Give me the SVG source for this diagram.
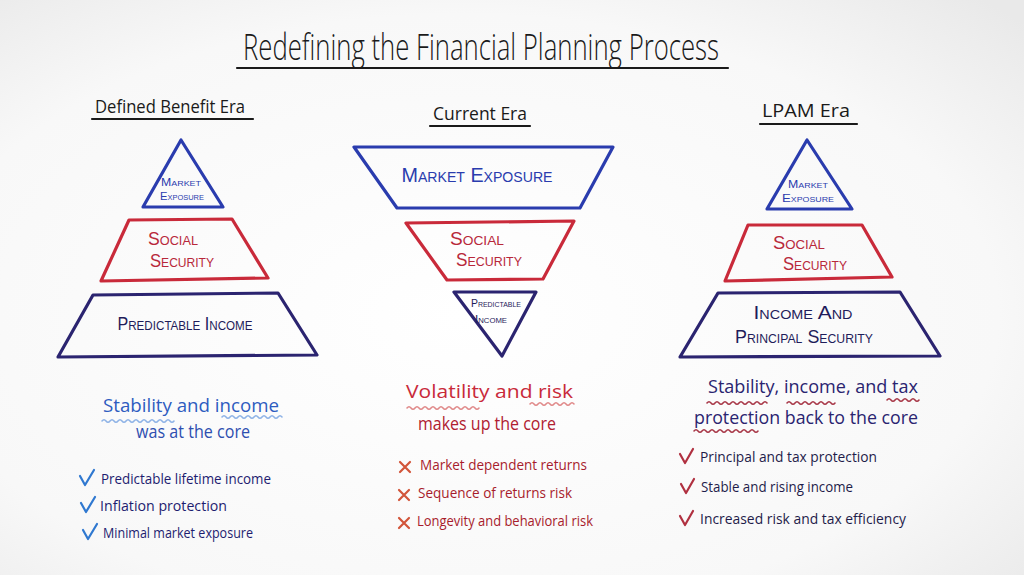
<svg xmlns="http://www.w3.org/2000/svg" width="1024" height="575" viewBox="0 0 1024 575">
<defs>
<radialGradient id="bg" cx="0.45" cy="0.55" r="0.75">
<stop offset="0" stop-color="#ffffff"/>
<stop offset="0.7" stop-color="#f8f8f8"/>
<stop offset="1" stop-color="#e9e9e9"/>
</radialGradient>
<style>
.title{font-family:"Open Sans","Liberation Sans",sans-serif;font-weight:300;font-size:36px;fill:#1a1a1a;}
.hdr{font-family:"Open Sans","Liberation Sans",sans-serif;font-size:19px;fill:#1a1a1a;}
.ul{stroke:#1a1a1a;stroke-width:2.2;fill:none;stroke-linecap:round;}
.shape{fill:none;stroke-width:3.2;stroke-linejoin:round;}
.blue{stroke:#2a3cae;}
.red{stroke:#c92a3a;}
.navy{stroke:#2b2470;}
.lbl{font-family:"Liberation Sans","DejaVu Sans",sans-serif;font-variant:small-caps;text-anchor:middle;}
.lblue{fill:#2a3cae;}
.lred{fill:#b8283a;}
.lnavy{fill:#1f1c5a;}
.sum{font-family:"Open Sans","Liberation Sans",sans-serif;font-size:18px;}
.item{font-family:"Open Sans","Liberation Sans",sans-serif;font-size:14.5px;}
.wave{fill:none;stroke-width:1.6;stroke-linecap:round;}
.mark{fill:none;stroke-width:2.2;stroke-linecap:round;stroke-linejoin:round;}
</style>
</defs>
<rect width="1024" height="575" fill="url(#bg)"/>

<g id="title">
<text class="title" x="243" y="60" textLength="476" lengthAdjust="spacingAndGlyphs">Redefining the Financial Planning Process</text>
<path class="ul" d="M237,68 L728,68"/>
</g>

<g id="header-defined">
<text class="hdr" x="95" y="113" textLength="150" lengthAdjust="spacingAndGlyphs">Defined Benefit Era</text>
<path class="ul" d="M92,119 L253,119"/>
</g>
<g id="header-current">
<text class="hdr" x="433" y="120" textLength="94" lengthAdjust="spacingAndGlyphs">Current Era</text>
<path class="ul" d="M430,126 L530,126"/>
</g>
<g id="header-lpam">
<text class="hdr" x="762" y="117" textLength="88" lengthAdjust="spacingAndGlyphs">LPAM Era</text>
<path class="ul" d="M760,124 L857,124"/>
</g>

<!-- Left pyramid -->
<g id="left-market">
<polygon class="shape blue" points="181,140 223,207 143,207"/>
<text class="lbl lblue" x="181" y="186" font-size="11" textLength="40" lengthAdjust="spacingAndGlyphs">Market</text>
<text class="lbl lblue" x="182" y="200" font-size="10.5" textLength="44" lengthAdjust="spacingAndGlyphs">Exposure</text>
</g>
<g id="left-social">
<polygon class="shape red" points="129,220 232,219 268,278 101,281"/>
<text class="lbl lred" x="173" y="245" font-size="18" textLength="50" lengthAdjust="spacingAndGlyphs">Social</text>
<text class="lbl lred" x="182" y="267" font-size="18" textLength="64" lengthAdjust="spacingAndGlyphs">Security</text>
</g>
<g id="left-income">
<polygon class="shape navy" points="93,295 278,293 317,355 58,357"/>
<text class="lbl lnavy" x="185" y="330" font-size="18" textLength="135" lengthAdjust="spacingAndGlyphs">Predictable Income</text>
</g>

<!-- Center inverted pyramid -->
<g id="center-market">
<polygon class="shape blue" points="354,147 613,147 580,208 397,208"/>
<text class="lbl lblue" x="477" y="182" font-size="21" textLength="151" lengthAdjust="spacingAndGlyphs">Market Exposure</text>
</g>
<g id="center-social">
<polygon class="shape red" points="406,223 574,221 543,279 447,280"/>
<text class="lbl lred" x="477" y="245" font-size="18" textLength="54" lengthAdjust="spacingAndGlyphs">Social</text>
<text class="lbl lred" x="489" y="266" font-size="18" textLength="66" lengthAdjust="spacingAndGlyphs">Security</text>
</g>
<g id="center-income">
<polygon class="shape navy" points="454,292 536,292 502,356"/>
<text class="lbl lnavy" x="496" y="307" font-size="10.5" textLength="50" lengthAdjust="spacingAndGlyphs">Predictable</text>
<text class="lbl lnavy" x="491" y="323" font-size="10.5" textLength="32" lengthAdjust="spacingAndGlyphs">Income</text>
</g>

<!-- Right pyramid -->
<g id="right-market">
<polygon class="shape blue" points="807,140 852,209 767,209"/>
<text class="lbl lblue" x="808" y="188" font-size="11" textLength="40" lengthAdjust="spacingAndGlyphs">Market</text>
<text class="lbl lblue" x="808" y="202" font-size="10.5" textLength="52" lengthAdjust="spacingAndGlyphs">Exposure</text>
</g>
<g id="right-social">
<polygon class="shape red" points="748,225 862,225 892,277 725,281"/>
<text class="lbl lred" x="799" y="249" font-size="18" textLength="52" lengthAdjust="spacingAndGlyphs">Social</text>
<text class="lbl lred" x="815" y="270" font-size="18" textLength="64" lengthAdjust="spacingAndGlyphs">Security</text>
</g>
<g id="right-income">
<polygon class="shape navy" points="718,293 900,292 940,356 680,357"/>
<text class="lbl lnavy" x="803" y="319" font-size="19" textLength="99" lengthAdjust="spacingAndGlyphs">Income And</text>
<text class="lbl lnavy" x="804" y="343" font-size="19" textLength="138" lengthAdjust="spacingAndGlyphs">Principal Security</text>
</g>

<!-- Left summary -->
<g id="left-summary">
<text class="sum" x="103" y="412" fill="#2e5cc0" textLength="176" lengthAdjust="spacingAndGlyphs">Stability and income</text>
<text class="sum" x="136" y="438" fill="#2e4fb0" textLength="114" lengthAdjust="spacingAndGlyphs">was at the core</text>
<path class="wave" stroke="#8fb3e6" d="M102,421 q2,-2.5 4,0 t4,0 t4,0 t4,0 t4,0 t4,0 t4,0 t4,0 t4,0 t4,0 t4,0 t4,0 t4,0 t4,0 t4,0 t4,0 t4,0 t4,0"/>
<path class="wave" stroke="#8fb3e6" d="M222,417 q2,-2.5 4,0 t4,0 t4,0 t4,0 t4,0 t4,0 t4,0 t4,0 t4,0 t4,0 t4,0 t4,0 t4,0 t4,0 t4,0"/>
</g>
<g id="left-list">
<path class="mark" stroke="#2f78d0" d="M80,476 l5,9 l9,-15"/>
<text class="item" x="101" y="484" fill="#1e1d70" textLength="170" lengthAdjust="spacingAndGlyphs">Predictable lifetime income</text>
<path class="mark" stroke="#2f78d0" d="M81,503 l5,9 l9,-15"/>
<text class="item" x="100" y="511" fill="#1e1d70" textLength="127" lengthAdjust="spacingAndGlyphs">Inflation protection</text>
<path class="mark" stroke="#2f78d0" d="M83,530 l5,9 l9,-15"/>
<text class="item" x="103" y="538" fill="#1e1d70" textLength="150" lengthAdjust="spacingAndGlyphs">Minimal market exposure</text>
</g>

<!-- Center summary -->
<g id="center-summary">
<text class="sum" x="406" y="398" fill="#c92a3a" textLength="167" lengthAdjust="spacingAndGlyphs">Volatility and risk</text>
<text class="sum" x="418" y="430" fill="#b02030" textLength="138" lengthAdjust="spacingAndGlyphs">makes up the core</text>
<path class="wave" stroke="#e08a8a" d="M407,408 q2,-2.5 4,0 t4,0 t4,0 t4,0 t4,0 t4,0 t4,0 t4,0 t4,0 t4,0 t4,0 t4,0 t4,0 t4,0 t4,0 t4,0 t4,0 t4,0"/>
<path class="wave" stroke="#e08a8a" d="M530,404 q2,-2.5 4,0 t4,0 t4,0 t4,0 t4,0 t4,0 t4,0 t4,0 t4,0 t4,0 t4,0"/>
</g>
<g id="center-list">
<path class="mark" stroke="#d2553a" d="M400,462 l10,10 M410,462 l-10,10"/>
<text class="item" x="420" y="470" fill="#a81c2c" textLength="167" lengthAdjust="spacingAndGlyphs">Market dependent returns</text>
<path class="mark" stroke="#d2553a" d="M399,490 l10,10 M409,490 l-10,10"/>
<text class="item" x="418" y="498" fill="#a81c2c" textLength="154" lengthAdjust="spacingAndGlyphs">Sequence of returns risk</text>
<path class="mark" stroke="#d2553a" d="M399,518 l10,10 M409,518 l-10,10"/>
<text class="item" x="417" y="526" fill="#a81c2c" textLength="176" lengthAdjust="spacingAndGlyphs">Longevity and behavioral risk</text>
</g>

<!-- Right summary -->
<g id="right-summary">
<text class="sum" x="708" y="393" fill="#2a2470" textLength="210" lengthAdjust="spacingAndGlyphs">Stability, income, and tax</text>
<text class="sum" x="694" y="424" fill="#2a2470" textLength="224" lengthAdjust="spacingAndGlyphs">protection back to the core</text>
<path class="wave" stroke="#a83848" d="M707,403 q2,-2.5 4,0 t4,0 t4,0 t4,0 t4,0 t4,0 t4,0 t4,0 t4,0 t4,0 t4,0 t4,0 t4,0 t4,0 t4,0"/>
<path class="wave" stroke="#a83848" d="M787,403 q2,-2.5 4,0 t4,0 t4,0 t4,0 t4,0 t4,0 t4,0 t4,0 t4,0 t4,0 t4,0 t4,0"/>
<path class="wave" stroke="#a83848" d="M887,400 q2,-2.5 4,0 t4,0 t4,0 t4,0 t4,0 t4,0 t4,0 t4,0"/>
<path class="wave" stroke="#a83848" d="M694,431 q2,-2.5 4,0 t4,0 t4,0 t4,0 t4,0 t4,0 t4,0 t4,0 t4,0 t4,0 t4,0 t4,0 t4,0 t4,0 t4,0 t4,0"/>
</g>
<g id="right-list">
<path class="mark" stroke="#b03040" d="M680,454 l5,9 l8,-14"/>
<text class="item" x="700" y="462" fill="#1f1c4a" textLength="177" lengthAdjust="spacingAndGlyphs">Principal and tax protection</text>
<path class="mark" stroke="#b03040" d="M681,484 l5,9 l8,-14"/>
<text class="item" x="701" y="492" fill="#1f1c4a" textLength="152" lengthAdjust="spacingAndGlyphs">Stable and rising income</text>
<path class="mark" stroke="#b03040" d="M680,516 l5,9 l8,-14"/>
<text class="item" x="700" y="524" fill="#1f1c4a" textLength="206" lengthAdjust="spacingAndGlyphs">Increased risk and tax efficiency</text>
</g>
</svg>
